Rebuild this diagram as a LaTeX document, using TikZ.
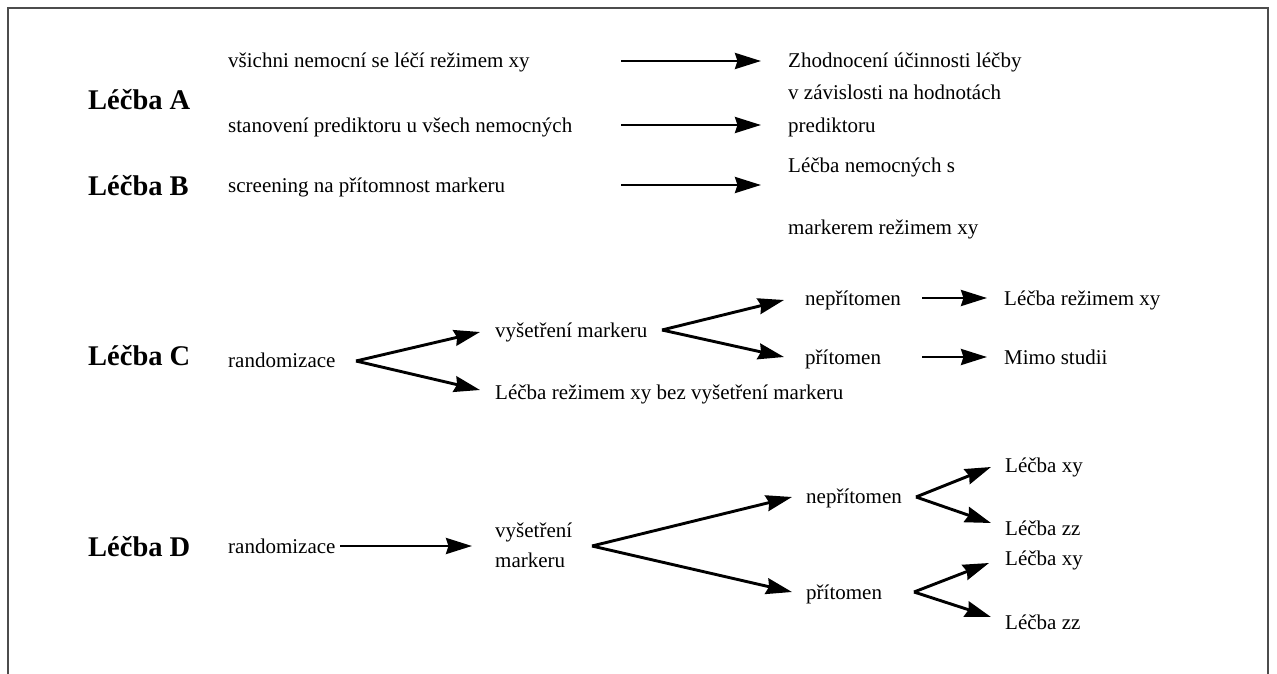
\documentclass[tikz,border=0pt]{standalone}
\usepackage{fontspec}
\setmainfont{Liberation Serif}
\usetikzlibrary{arrows.meta}
\begin{document}
\begin{tikzpicture}[x=1pt,y=-1pt,
  txt/.style={anchor=base west, inner sep=0pt, font=\fontsize{21}{32}\selectfont},
  head/.style={anchor=base west, inner sep=0pt, font=\fontsize{28.5}{34}\selectfont\bfseries},
  arr/.style={line width=2.9pt, -{Stealth[length=26pt,width=16pt,inset=2.5pt]}},
  framestyle/.style={draw=black!70, line width=1.5pt}]
\useasboundingbox (0,0) rectangle (1277,674);
\draw[framestyle] (8,674) -- (8,8) -- (1268,8) -- (1268,674);

% ---- A
\node[head] (hA) at (88,110) {Léčba A};
\node[txt] (a1) at (228,68) {všichni nemocní se léčí režimem xy};
\node[txt] (a2) at (228,133) {stanovení prediktoru u všech nemocných};
\node[txt] (ar1) at (788,68) {Zhodnocení účinnosti léčby};
\node[txt] (ar2) at (788,100) {v závislosti na hodnotách};
\node[txt] (ar3) at (788,132) {prediktoru};
\coordinate (a1s) at (621,61); \coordinate (a1e) at (761,61);
\coordinate (a2s) at (621,125); \coordinate (a2e) at (761,125);
\draw[arr] (a1s) -- (a1e);
\draw[arr] (a2s) -- (a2e);

% ---- B
\node[head] (hB) at (88,195) {Léčba B};
\node[txt] (b1) at (228,192) {screening na přítomnost markeru};
\node[txt] (br1) at (788,172) {Léčba nemocných s};
\node[txt] (br2) at (788,234) {markerem režimem xy};
\coordinate (bs) at (621,185); \coordinate (be) at (761,185);
\draw[arr] (bs) -- (be);

% ---- C
\node[head] (hC) at (88,365) {Léčba C};
\node[txt] (c1) at (228,367) {randomizace};
\node[txt] (c2) at (495,337) {vyšetření markeru};
\node[txt] (c3) at (495,399) {Léčba režimem xy bez vyšetření markeru};
\node[txt] (c4) at (805,305) {nepřítomen};
\node[txt] (c5) at (805,364) {přítomen};
\node[txt] (c6) at (1004,305) {Léčba režimem xy};
\node[txt] (c7) at (1004,364) {Mimo studii};
\coordinate (cap1) at (356,361);
\coordinate (ct1) at (480,332); \coordinate (ct2) at (480,390);
\coordinate (cap2) at (662,330);
\coordinate (ct3) at (784,300); \coordinate (ct4) at (784,357);
\coordinate (cs5) at (922,298); \coordinate (ce5) at (987,298);
\coordinate (cs6) at (922,357); \coordinate (ce6) at (987,357);
\draw[arr] (cap1) -- (ct1);
\draw[arr] (cap1) -- (ct2);
\draw[arr] (cap2) -- (ct3);
\draw[arr] (cap2) -- (ct4);
\draw[arr] (cs5) -- (ce5);
\draw[arr] (cs6) -- (ce6);

% ---- D
\node[head] (hD) at (88,556) {Léčba D};
\node[txt] (d1) at (228,553) {randomizace};
\node[txt] (d2) at (495,537) {vyšetření};
\node[txt] (d3) at (495,567) {markeru};
\node[txt] (d4) at (806,503) {nepřítomen};
\node[txt] (d5) at (806,599) {přítomen};
\node[txt] (d6) at (1005,472) {Léčba xy};
\node[txt] (d7) at (1005,535) {Léčba zz};
\node[txt] (d8) at (1005,565) {Léčba xy};
\node[txt] (d9) at (1005,629) {Léčba zz};
\coordinate (ds) at (340,546); \coordinate (de) at (472,546);
\coordinate (dap1) at (592,546);
\coordinate (dt1) at (792,497); \coordinate (dt2) at (792,592);
\coordinate (dap2) at (916,497);
\coordinate (dt3) at (991,467); \coordinate (dt4) at (991,523);
\coordinate (dap3) at (914,592);
\coordinate (dt5) at (989,563); \coordinate (dt6) at (991,617);
\draw[arr] (ds) -- (de);
\draw[arr] (dap1) -- (dt1);
\draw[arr] (dap1) -- (dt2);
\draw[arr] (dap2) -- (dt3);
\draw[arr] (dap2) -- (dt4);
\draw[arr] (dap3) -- (dt5);
\draw[arr] (dap3) -- (dt6);
\end{tikzpicture}
\end{document}
